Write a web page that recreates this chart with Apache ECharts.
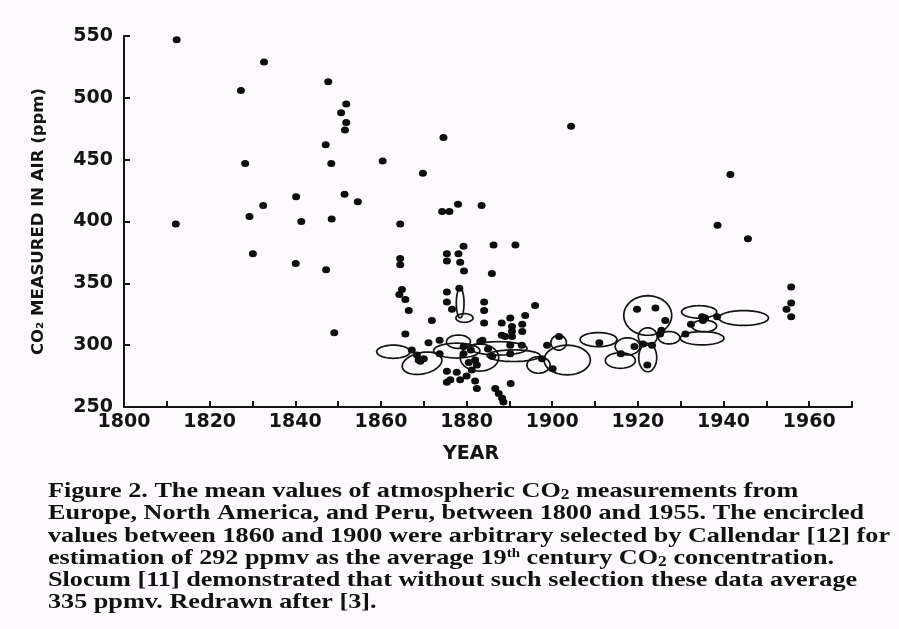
<!DOCTYPE html>
<html>
<head>
<meta charset="utf-8">
<script src="https://cdn.jsdelivr.net/npm/echarts@6/dist/echarts.min.js"></script>
<style>
html,body{margin:0;padding:0;background:#fdfafd;}
#chart{width:899px;height:629px;}
</style>
</head>
<body>
<div id="chart"></div>
<script>
// ---- data ----
const years = [
 1812.3,1812.1,1827.3,1828.3,1829.3,1830.1,1832.5,1832.7,1840.1,1840.2,1841.4,
 1847.1,1847.2,1847.7,1848.4,1848.5,1849.1,1850.7,1851.5,1851.6,1851.9,1851.9,1854.6,
 1860.4,1860.6,1864.5,1864.5,1864.5,1864.3,1864.9,1865.7,1866.5,1865.7,1866.9,1869.8,
 1871.9,1874.3,1874.6,1876.0,1878.0,1883.5,1875.4,1878.1,1879.3,1875.4,1878.5,1879.4,
 1875.4,1875.4,1876.6,1878.3,1884.1,1884.1,1884.1,1885.9,1886.3,1891.4,1890.2,1890.6,
 1890.6,1890.6,1888.2,1889.0,1893.7,1893.0,1893.0,1896.0,
 1867.2,1868.4,1868.8,1870.0,1871.1,1873.7,1873.7,1869.2,1875.4,1877.7,1876.2,1878.5,
 1875.4,1879.3,1879.3,1880.0,1881.2,1882.4,1882.0,1882.0,1882.4,1883.2,1883.7,1886.7,
 1887.5,1888.3,1888.6,1890.3,1890.2,1890.2,1892.9,1888.2,1880.5,1881.0,1885.0,1886.0,
 1897.6,1898.8,1900.1,1901.6,1904.4,1911.0,1916.0,1919.2,1921.2,1923.3,1922.2,1919.8,
 1924.1,1926.4,1925.5,1925.2,1931.1,1932.4,1935.2,1935.7,1935.0,1938.5,1938.6,1941.6,
 1945.7,1955.8,1955.8,1954.7,1955.8
];
const ppm = [
 547,398,506,447,404,374,413,529,366,420,400,
 462,361,513,447,402,310,488,422,474,480,495,416,
 449,556,398,370,365,341,345,337,328,309,552,439,
 320,408,468,408,414,413,374,374,380,368,367,360,
 343,335,329,346,335,328,318,358,381,381,322,315,
 311,307,318,307,324,317,311,332,
 296,292,288,289,302,304,293,287,279,278,272,272,
 270,299,293,275,280,284,288,271,265,303,304,265,
 261,257,254,269,293,300,300,308,286,296,297,291,
 289,300,281,307,477,302,293,299,301,300,284,329,
 330,320,312,309,309,317,320,322,323,323,397,438,
 386,347,334,329,323
];
// encircled groups: centre year, centre ppm, half-width (years), half-height (ppm), tilt (deg)
const ringYear   = [1862.9,1869.6,1878.1,1877.7,1887.5,1891.0,1878.5,1879.5,1896.8,1883.0,1903.5,1901.5,1910.8,1915.9,1917.6,1922.3,1922.3,1922.3,1927.3,1935.0,1934.3,1935.5,1944.7];
const ringPpm    = [294.7,285.4,302.8,295.6,297.4,291.5,334,322,284,290,288,302,304.5,287.6,299,290,324,307,306,305.6,326.9,315.5,322];
const ringHalfX  = [3.9,4.7,2.8,5.4,6.6,6.2,0.9,2.0,2.7,4.5,5.4,1.8,4.3,3.5,2.9,2.1,5.6,2.2,2.5,5.1,4.1,2.9,5.8];
const ringHalfY  = [5.3,8.6,5.4,6.0,5.4,4.7,12,3.5,6.7,11,12,6,5.7,6.3,6.9,11.5,16,7,5,5.4,5,4.7,6];
const ringTilt   = [0,12,0,0,0,0,0,0,0,0,0,0,0,0,0,0,0,0,0,0,0,0,0];
const xTickLabels = [1800,1820,1840,1860,1880,1900,1920,1940,1960];
const yTickLabels = [250,300,350,400,450,500,550];
const captionLines = [
 'Figure 2. The mean values of atmospheric CO{sub|2} measurements from',
 'Europe, North America, and Peru, between 1800 and 1955. The encircled',
 'values between 1860 and 1900 were arbitrary selected by Callendar [12] for',
 'estimation of 292 ppmv as the average 19{sup|th} century CO{sub|2} concentration.',
 'Slocum [11] demonstrated that without such selection these data average',
 '335 ppmv. Redrawn after [3].'
];

// ---- chart ----
const chart = echarts.init(document.getElementById('chart'));
const points = years.map((y,i)=>[y, ppm[i]]);
const rings = ringYear.map((y,i)=>[y, ringPpm[i], ringHalfX[i], ringHalfY[i], ringTilt[i]]);
const axisFont = 'DejaVu Sans';
const ink = '#141414';

const capFam = 'Liberation Serif';
const capSize = 21;
const cvs = document.createElement('canvas').getContext('2d');
cvs.font = 'bold ' + capSize + 'px "' + capFam + '"';
const refW = cvs.measureText('values between 1860 and 1900 were arbitrary selected by Callendar [12] for').width;
const capScale = 842 / refW;

const graphics = captionLines.map((t,i)=>({
  type:'text', left:48, top:481 + i*22.3, scaleX: capScale, originX:0,
  style:{text:t, fontFamily:capFam, fontSize:capSize, fontWeight:'bold', fill:'#111',
    rich:{
      sub:{fontFamily:capFam, fontSize:14, fontWeight:'bold', fill:'#111', verticalAlign:'bottom', padding:[6,0,0,0]},
      sup:{fontFamily:capFam, fontSize:12, fontWeight:'bold', fill:'#111', verticalAlign:'top', padding:[0,0,8,0]}
    }}
}));

chart.setOption({
  backgroundColor:'#fdfafd',
  animation:false,
  grid:{left:124, right:47, top:36, bottom:222},
  xAxis:{
    type:'value', min:1800, max:1970, interval:10,
    name:'YEAR', nameLocation:'middle', nameGap:38,
    nameTextStyle:{fontFamily:axisFont, fontWeight:'bold', fontSize:19, color:ink, padding:[0,34,0,0]},
    axisLine:{show:true, onZero:false, lineStyle:{color:ink, width:2}},
    axisTick:{show:true, inside:true, length:6, lineStyle:{color:ink, width:2}},
    axisLabel:{fontFamily:axisFont, fontWeight:'bold', fontSize:19, color:ink, margin:6,
      formatter:v=> xTickLabels.includes(v) ? String(v) : ''},
    splitLine:{show:false}
  },
  yAxis:{
    type:'value', min:250, max:550, interval:50,
    name:'CO₂ MEASURED IN AIR (ppm)', nameLocation:'middle', nameGap:77, nameRotate:90,
    nameMoveOverlap:false,
    nameTextStyle:{fontFamily:axisFont, fontWeight:'bold', fontSize:16.5, color:ink},
    axisLine:{show:true, lineStyle:{color:ink, width:2}},
    axisTick:{show:true, inside:true, length:6, lineStyle:{color:ink, width:2}},
    axisLabel:{fontFamily:axisFont, fontWeight:'bold', fontSize:19, color:ink, margin:11,
      formatter:v=> yTickLabels.includes(v) ? String(v) : ''},
    splitLine:{show:false}
  },
  graphic: graphics,
  series:[
    {
      type:'custom', data:rings, silent:true, z:1,
      renderItem:(params, api)=>{
        const c = api.coord([api.value(0), api.value(1)]);
        const s = api.size([api.value(2), api.value(3)]);
        const tilt = api.value(4) * Math.PI/180;
        const pts = [];
        for(let k=0;k<48;k++){
          const a = k/48*Math.PI*2;
          const ex = s[0]*Math.cos(a), ey = s[1]*Math.sin(a);
          pts.push([c[0] + ex*Math.cos(tilt) + ey*Math.sin(tilt), c[1] - ex*Math.sin(tilt) + ey*Math.cos(tilt)]);
        }
        return {type:'polygon', shape:{points:pts}, style:{fill:'none', stroke:ink, lineWidth:1.7}};
      }
    },
    {
      type:'scatter', data:points, symbol:'circle', symbolSize:[8,7], z:2,
      itemStyle:{color:'#0d0d0d', opacity:1}
    }
  ]
});
</script>
</body>
</html>
